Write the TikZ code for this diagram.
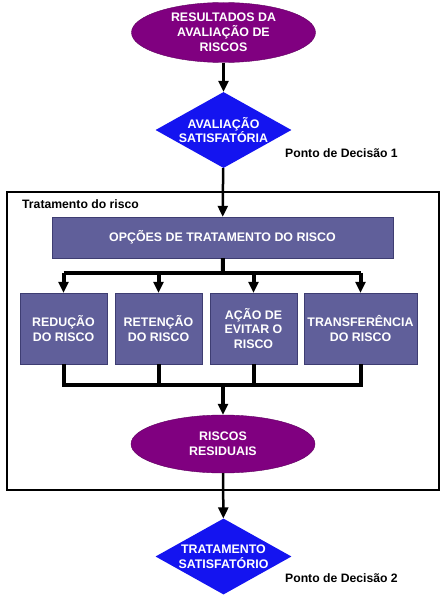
\documentclass[tikz,border=0pt]{standalone}
\usepackage{fontspec}
\setmainfont{Liberation Sans}
\usetikzlibrary{shapes.geometric,arrows.meta}
\definecolor{roxo}{HTML}{800080}
\definecolor{roxoesc}{HTML}{600060}
\definecolor{azul}{HTML}{1414F0}
\definecolor{ardosia}{HTML}{605F9A}
\definecolor{ardosiaesc}{HTML}{3E3D72}
\tikzset{
  textobranco/.style={text=white,font=\bfseries\fontsize{12.4}{14.8}\selectfont,align=center},
  elipse/.style={textobranco,ellipse,draw=roxoesc,fill=roxo,minimum width=184pt,minimum height=60pt,inner sep=-2pt},
  decisao/.style={textobranco,diamond,fill=azul,minimum width=136pt,minimum height=76pt,inner sep=-8pt,aspect=1.8},
  caixa/.style={textobranco,rectangle,draw=ardosiaesc,fill=ardosia,minimum height=71pt,inner sep=0pt},
  rotulo/.style={font=\bfseries\fontsize{12.2}{14}\selectfont,anchor=west,inner sep=0pt},
  seta/.style={line width=2.5pt,-{Triangle[length=11pt,width=10pt]}},
  linha/.style={line width=4pt}
}
\begin{document}
\begin{tikzpicture}[x=1pt,y=-1pt]
  \useasboundingbox (0,0) rectangle (443,602);
  % quadro do tratamento
  \draw[line width=1.3pt] (7,192) rectangle (439,490);
  \node[rotulo] (trat) at (22,204) {Tratamento do risco};

  \node[elipse] (result) at (223.5,32.5) {RESULTADOS DA\\AVALIAÇÃO DE\\RISCOS};
  \node[decisao] (aval) at (223.5,130) {AVALIAÇÃO\\SATISFATÓRIA};
  \node[rotulo] (ponto1) at (285,153) {Ponto de Decisão 1};

  \node[caixa,minimum width=341pt,minimum height=41pt] (opcoes) at (222.5,237.5) {OPÇÕES DE TRATAMENTO DO RISCO};

  \node[caixa,minimum width=87pt] (red) at (63.5,328.5) {REDUÇÃO\\DO RISCO};
  \node[caixa,minimum width=87pt] (ret) at (158.5,328.5) {RETENÇÃO\\DO RISCO};
  \node[caixa,minimum width=87pt] (evi) at (253.5,328.5) {AÇÃO DE\\EVITAR O\\RISCO};
  \node[caixa,minimum width=113pt] (transf) at (360.5,328.5) {TRANSFERÊNCIA\\DO RISCO};

  \node[elipse,minimum height=58pt] (resid) at (223,444) {RISCOS\\RESIDUAIS};
  \node[decisao] (trat2) at (223.5,556.5) {TRATAMENTO\\SATISFATÓRIO};
  \node[rotulo] (ponto2) at (285,578) {Ponto de Decisão 2};

  \coordinate (ramo) at (223,273);
  \coordinate (junta) at (223,385);

  \draw[seta] (result) -- (aval);
  \draw[seta] (aval) -- (opcoes);
  \draw[linha] (opcoes) -- (ramo);
  \draw[linha] (red |- ramo) -- (transf |- ramo);
  \foreach \c in {red,ret,evi,transf}
    \draw[seta,line width=4pt] (\c |- ramo) -- (\c);
  \draw[linha] (red) -- (red |- junta) -- (transf |- junta) -- (transf);
  \foreach \c in {ret,evi}
    \draw[linha] (\c) -- (\c |- junta);
  \draw[seta,line width=4pt] (junta) -- (resid);
  \draw[seta] (resid) -- (trat2);
\end{tikzpicture}
\end{document}
